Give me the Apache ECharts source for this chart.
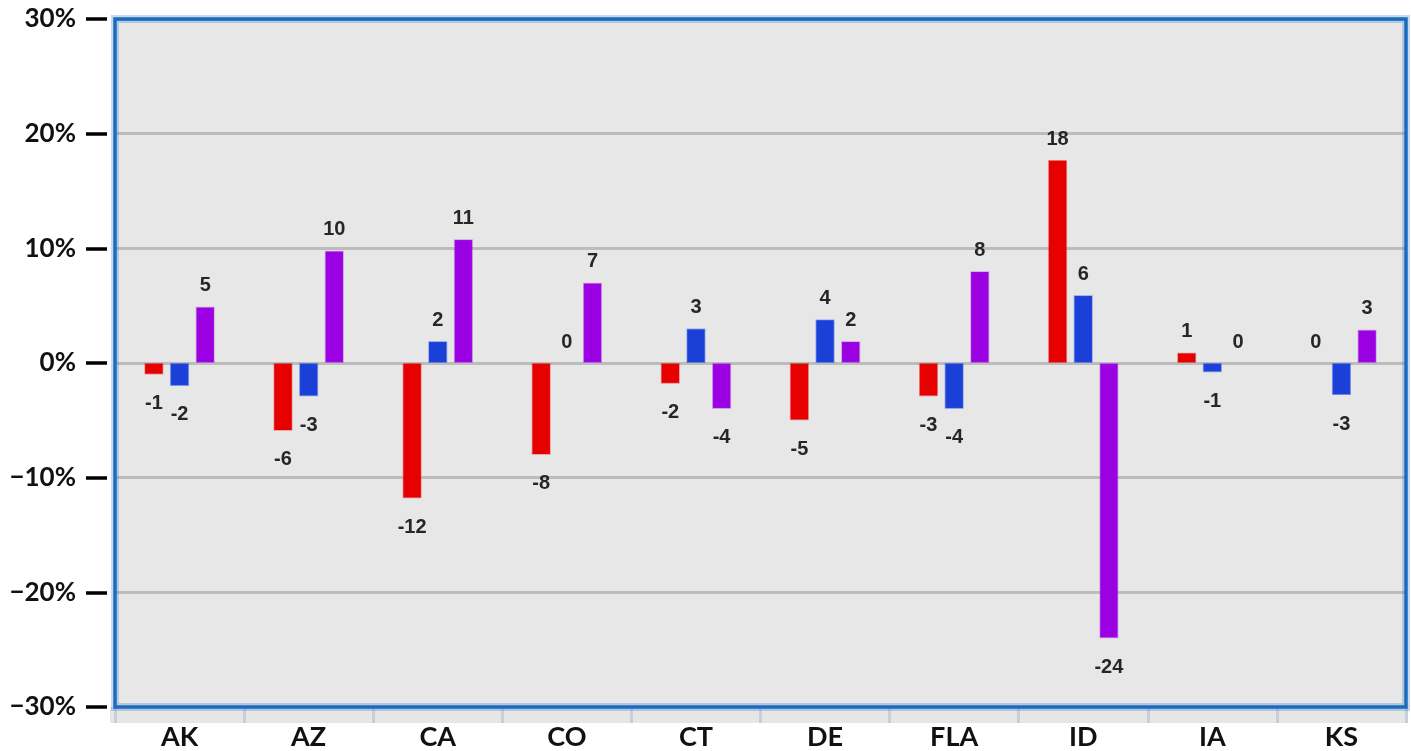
<!DOCTYPE html>
<html>
<head>
<meta charset="utf-8">
<script src="https://cdn.jsdelivr.net/npm/echarts@6/dist/echarts.min.js"></script>
<style>
html, body { margin: 0; padding: 0; background: #fff; }
#chart { width: 1411px; height: 751px; }
</style>
</head>
<body>
<div id="chart"></div>
<script>
// values (labels show the rounded figure)
var states = ['AK', 'AZ', 'CA', 'CO', 'CT', 'DE', 'FLA', 'ID', 'IA', 'KS'];
var redValues = [-1.0, -5.9, -11.8, -8.0, -1.8, -5.0, -2.9, 17.7, 0.9, 0];
var blueValues = [-2.0, -2.9, 1.9, 0, 3.0, 3.8, -4.0, 5.9, -0.8, -2.8];
var purpleValues = [4.9, 9.8, 10.8, 7.0, -4.0, 1.9, 8.0, -24.0, 0, 2.9];
var yTicks = [-30, -20, -10, 0, 10, 20, 30];

var gridBox = { left: 115, top: 19, right: 5, bottom: 44 };
var W = 1411, H = 751;

function toItems(values) {
	return values.map(function (v) {
		var neg = v < 0;
		var item = {
			value: v,
			label: {
				position: neg ? 'bottom' : 'top',
				distance: neg ? 19 : 11
			}
		};
		if (v === 0) item.itemStyle = { borderWidth: 0 };
		return item;
	});
}

function makeSeries(name, values, color, halo) {
	return {
		name: name,
		type: 'bar',
		barWidth: 19,
		barGap: '35%',
		data: toItems(values),
		itemStyle: { color: color, borderColor: halo, borderWidth: 1.5 },
		label: {
			show: true,
			fontFamily: 'Liberation Sans, Arial, sans-serif',
			fontWeight: 'bold',
			fontSize: 20,
			color: '#262626',
			formatter: function (p) { return String(Math.round(p.value)); }
		},
		z: 3
	};
}

var option = {
	animation: false,
	backgroundColor: '#ffffff',
	grid: {
		left: gridBox.left, top: gridBox.top, right: gridBox.right, bottom: gridBox.bottom,
		show: true, backgroundColor: '#e7e7e7', borderWidth: 0
	},
	xAxis: {
		type: 'category',
		data: states,
		z: 4,
		axisLine: { show: false, onZero: false },
		axisTick: { show: true, length: 16, lineStyle: { color: '#c6cfdb', width: 3 } },
		axisLabel: {
			margin: 17,
			fontFamily: 'Lato, sans-serif',
			fontWeight: 'bold',
			fontSize: 27,
			color: '#111'
		},
		splitLine: { show: false }
	},
	yAxis: {
		type: 'value',
		min: yTicks[0],
		max: yTicks[yTicks.length - 1],
		interval: 10,
		offset: 8,
		axisLine: { show: false },
		axisTick: { show: true, length: 21, lineStyle: { color: '#000', width: 3.5 } },
		axisLabel: {
			margin: 31,
			fontFamily: 'Lato, sans-serif',
			fontWeight: 'bold',
			fontSize: 26,
			color: '#111',
			formatter: function (v) { return (v < 0 ? '\u2212' : '') + Math.abs(v) + '%'; }
		},
		splitLine: { show: true, lineStyle: { color: '#bcbcbc', width: 3 } }
	},
	series: [
		makeSeries('red', redValues, '#e60000', 'rgba(230,0,0,0.35)'),
		makeSeries('blue', blueValues, '#1a40d8', 'rgba(40,80,230,0.45)'),
		makeSeries('purple', purpleValues, '#9b00e2', 'rgba(160,40,230,0.35)')
	],
	graphic: [
		{
			type: 'rect', z: 1, silent: true,
			shape: { x: gridBox.left - 5, y: H - gridBox.bottom, width: W - gridBox.left, height: 16 },
			style: { fill: '#e6e6e6' }
		},
		{
			type: 'rect', z: 10, silent: true,
			shape: { x: gridBox.left, y: gridBox.top, width: W - gridBox.left - gridBox.right, height: H - gridBox.top - gridBox.bottom },
			style: { fill: null, stroke: 'rgba(60,130,200,0.3)', lineWidth: 8 }
		},
		{
			type: 'rect', z: 11, silent: true,
			shape: { x: gridBox.left, y: gridBox.top, width: W - gridBox.left - gridBox.right, height: H - gridBox.top - gridBox.bottom },
			style: { fill: null, stroke: '#1c6cbe', lineWidth: 3.5 }
		}
	]
};

var myChart = echarts.init(document.getElementById('chart'));
myChart.setOption(option);
</script>
</body>
</html>
